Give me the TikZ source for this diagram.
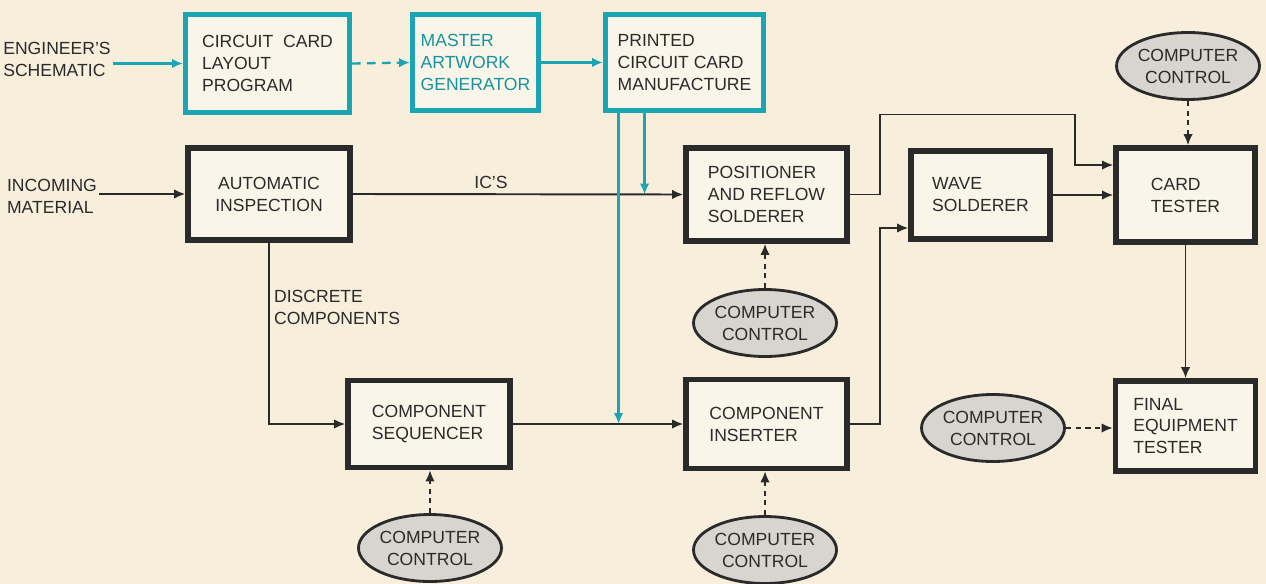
\documentclass[tikz,border=0pt]{standalone}
\usepackage{fontspec}
\setmainfont{Liberation Sans}
\usetikzlibrary{arrows.meta,shapes.geometric}
\definecolor{paper}{HTML}{F7EFDC}
\definecolor{cardfill}{HTML}{FAF5E9}
\definecolor{tealink}{HTML}{1AA5B3}
\definecolor{tealtext}{HTML}{17939F}
\definecolor{darkink}{HTML}{2A2A2A}
\definecolor{ovalfill}{HTML}{D8D5CE}
\begin{document}
\begin{tikzpicture}[x=0.02cm,y=-0.02cm,
  font=\fontsize{10}{12.5}\selectfont,
  every node/.style={text=darkink},
  stage/.style 2 args={draw=darkink,line width=3.2pt,fill=cardfill,align=left,
    inner sep=0pt,minimum width=#1,minimum height=#2},
  tealstage/.style 2 args={draw=tealink,line width=2.8pt,fill=cardfill,align=left,
    inner sep=0pt,minimum width=#1,minimum height=#2},
  ctrl/.style={ellipse,draw=darkink,line width=1.6pt,fill=ovalfill,align=center,
    inner sep=0pt,minimum width=2.86cm,minimum height=1.34cm},
  label/.style={align=left,inner sep=1pt},
  flow/.style={draw=darkink,line width=1.1pt,-{Latex[length=2.2mm,width=1.9mm]}},
  tealflow/.style={draw=tealink,line width=1.3pt,-{Latex[length=2.2mm,width=1.9mm]}},
  ctrlflow/.style={flow,dash pattern=on 3pt off 2.5pt},
]
  \path[use as bounding box,fill=paper] (0,0) rectangle (1266,584);

  % card layout chain
  \node[tealstage={3.28cm}{1.96cm}] (layout) at (267.5,63.5) {CIRCUIT\ \ CARD\\LAYOUT\\PROGRAM};
  \node[tealstage={2.52cm}{1.92cm},text=tealtext] (master) at (475.5,62.5) {MASTER\\ARTWORK\\GENERATOR};
  \node[tealstage={3.16cm}{1.92cm}] (printed) at (684.5,62.5) {PRINTED\\CIRCUIT CARD\\MANUFACTURE};

  % assembly line
  \node[stage={3.24cm}{1.84cm},align=center] (autoinsp) at (269,194) {AUTOMATIC\\INSPECTION};
  \node[stage={3.22cm}{1.86cm}] (positioner) at (766.5,194.5) {POSITIONER\\AND REFLOW\\SOLDERER};
  \node[stage={2.78cm}{1.76cm}] (wave) at (980.5,195) {WAVE\\SOLDERER};
  \node[stage={2.78cm}{1.88cm}] (cardtester) at (1185.5,195) {CARD\\TESTER};
  \node[stage={2.80cm}{1.80cm}] (finaltester) at (1185.5,426) {FINAL\\EQUIPMENT\\TESTER};
  \node[stage={3.24cm}{1.74cm}] (sequencer) at (429,424) {COMPONENT\\SEQUENCER};
  \node[stage={3.22cm}{1.78cm}] (inserter) at (766.5,424) {COMPONENT\\INSERTER};

  % computer control
  \node[ctrl] (ctrlcard) at (1188,66) {COMPUTER\\CONTROL};
  \node[ctrl] (ctrlpos) at (765,323) {COMPUTER\\CONTROL};
  \node[ctrl] (ctrlfinal) at (993,428) {COMPUTER\\CONTROL};
  \node[ctrl] (ctrlseq) at (430,548) {COMPUTER\\CONTROL};
  \node[ctrl] (ctrlins) at (765,550) {COMPUTER\\CONTROL};

  % free labels
  \node[label] (eng) at (57,59) {ENGINEER'S\\SCHEMATIC};
  \node[label] (incoming) at (52,196) {INCOMING\\MATERIAL};
  \node[label] (ics) at (491,182) {IC'S};
  \node[label,anchor=west] (discrete) at (272,307) {DISCRETE\\COMPONENTS};

  % material flow
  \draw[flow] (incoming.east |- autoinsp.west) -- (autoinsp.west);
  \draw[flow] (autoinsp.east) -- (positioner.west);
  \draw[flow] (autoinsp.south) |- (sequencer.west);
  \draw[flow] (sequencer.east) -- (inserter.west);
  \draw[flow] (positioner.east) -- ++(30,0) -- ++(0,-80)
    -| ([xshift=-0.76cm,yshift=0.6cm]cardtester.west) -- ([yshift=0.6cm]cardtester.west);
  \draw[flow] (wave.east) -- (cardtester.west);
  \draw[flow] (inserter.east) -- ++(30,0) |- ([yshift=-0.66cm]wave.west);
  \draw[flow] (cardtester.south) -- (cardtester.south |- finaltester.north);

  % control links
  \draw[ctrlflow] (ctrlcard.south) -- (ctrlcard.south |- cardtester.north);
  \draw[ctrlflow] (ctrlpos.north) -- (ctrlpos.north |- positioner.south);
  \draw[ctrlflow] (ctrlseq.north) -- (ctrlseq.north |- sequencer.south);
  \draw[ctrlflow] (ctrlins.north) -- (ctrlins.north |- inserter.south);
  \draw[ctrlflow] (ctrlfinal.east) -- (ctrlfinal.east -| finaltester.west);

  % artwork flow
  \draw[tealflow] (eng.east |- layout.west) -- (layout.west);
  \draw[tealflow,dash pattern=on 5pt off 3.5pt] (layout.east) -- (master.west);
  \draw[tealflow] (master.east) -- (printed.west);
  \draw[tealflow] ([xshift=0.31cm]printed.south west) coordinate (drop1) -- (drop1 |- inserter.west);
  \draw[tealflow] ([xshift=0.83cm]printed.south west) coordinate (drop2) -- (drop2 |- positioner.west);
\end{tikzpicture}
\end{document}
